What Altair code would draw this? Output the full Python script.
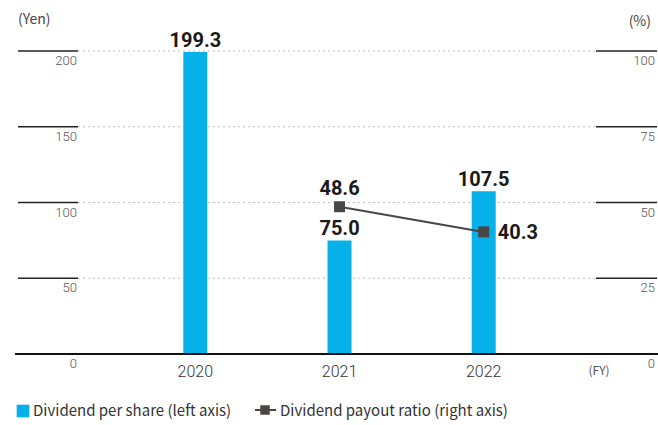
import altair as alt
import pandas as pd

# Fiscal years and series
years = [2020, 2021, 2022]
dividend_per_share = [199.3, 75.0, 107.5]          # Yen, left axis
payout_years = [2021, 2022]
payout_ratio = [48.6, 40.3]                         # %, right axis

left_ticks = [0, 50, 100, 150, 200]
right_ticks = [0, 25, 50, 75, 100]

bar_color = "#05b1e8"
line_color = "#4a4646"
label_font = "Noto Sans CJK JP"
num_font = "Roboto"

W, H = 640, 303
x_scale = alt.Scale(domain=[2018.805, 2023.174], nice=False, zero=False)
yl_scale = alt.Scale(domain=[0, 200], nice=False)
yr_scale = alt.Scale(domain=[0, 100], nice=False)

bars_df = pd.DataFrame({"year": years, "dps": dividend_per_share,
                        "label": [f"{v:.1f}" for v in dividend_per_share]})
line_df = pd.DataFrame({"year": payout_years, "ratio": payout_ratio,
                        "label": [f"{v:.1f}" for v in payout_ratio]})
ticks_df = pd.DataFrame({"yen": left_ticks, "pct": right_ticks,
                         "lt": [str(v) for v in left_ticks],
                         "rt": [str(v) for v in right_ticks]})
grid_df = ticks_df[ticks_df["yen"] > 0]

X = alt.X("year:Q", scale=x_scale, axis=None)
YL = alt.Y("dps:Q", scale=yl_scale, axis=None)
YR = alt.Y("ratio:Q", scale=yr_scale, axis=None)

# gridlines: solid stubs at both ends, dotted across the middle
grid_y = alt.Y("yen:Q", scale=yl_scale, axis=None)
grid_dotted = alt.Chart(grid_df).mark_rule(color="#bdbdbd", strokeDash=[2, 3], strokeWidth=1).encode(
    y=grid_y, x=alt.value(60), x2=alt.value(578))
grid_left = alt.Chart(grid_df).mark_rule(color="#222222", strokeWidth=1.5).encode(
    y=grid_y, x=alt.value(0), x2=alt.value(60))
grid_right = alt.Chart(grid_df).mark_rule(color="#222222", strokeWidth=1.5).encode(
    y=grid_y, x=alt.value(578), x2=alt.value(639))
baseline = alt.Chart(ticks_df[ticks_df["yen"] == 0]).mark_rule(color="#111111", strokeWidth=2.2).encode(
    y=grid_y, x=alt.value(-3), x2=alt.value(640))

left_labels = alt.Chart(ticks_df).mark_text(
    align="right", baseline="top", dy=4, font=num_font, fontWeight=300, fontSize=13, color="#555555").encode(
    y=grid_y, x=alt.value(59), text="lt:N")
right_labels = alt.Chart(ticks_df).mark_text(
    align="right", baseline="top", dy=4, font=num_font, fontWeight=300, fontSize=13, color="#555555").encode(
    y=alt.Y("pct:Q", scale=yr_scale, axis=None), x=alt.value(637), text="rt:N")

bars = alt.Chart(bars_df).mark_bar(size=24, color=bar_color).encode(x=X, y=YL)
bar_labels = alt.Chart(bars_df).mark_text(
    baseline="bottom", dy=-1, font=num_font, fontWeight="bold", fontSize=20, color="#1a1a1a").encode(
    x=X, y=YL, text="label:N")

line = alt.Chart(line_df).mark_line(color=line_color, strokeWidth=2).encode(x=X, y=YR)
points = alt.Chart(line_df).mark_point(shape="square", filled=True, size=120, color=line_color, opacity=1).encode(x=X, y=YR)
line_label_1 = alt.Chart(line_df[line_df["year"] == 2021]).mark_text(
    baseline="bottom", dy=-8, font=num_font, fontWeight="bold", fontSize=20, color="#1a1a1a").encode(
    x=X, y=YR, text="label:N")
line_label_2 = alt.Chart(line_df[line_df["year"] == 2022]).mark_text(
    align="left", baseline="middle", dx=14, dy=1, font=num_font, fontWeight="bold", fontSize=20, color="#1a1a1a").encode(
    x=X, y=YR, text="label:N")

year_labels = alt.Chart(bars_df).mark_text(
    baseline="middle", font=num_font, fontWeight=300, fontSize=16, color="#333333").encode(
    x=X, y=alt.value(321), text=alt.Text("year:Q", format="d"))

# unit captions and legend
captions_df = pd.DataFrame({"t": ["(Yen)", "(%)", "(FY)"]})
cap_yen = alt.Chart(captions_df.iloc[[0]]).mark_text(align="left", baseline="middle", font=label_font, fontSize=14, color="#444444").encode(
    x=alt.value(0), y=alt.value(-31), text="t:N")
cap_pct = alt.Chart(captions_df.iloc[[1]]).mark_text(align="right", baseline="middle", font=label_font, fontSize=14, color="#444444").encode(
    x=alt.value(633), y=alt.value(-29), text="t:N")
cap_fy = alt.Chart(captions_df.iloc[[2]]).mark_text(align="center", baseline="middle", font=label_font, fontSize=12, color="#555555").encode(
    x=alt.value(581), y=alt.value(320), text="t:N")

legend_df = pd.DataFrame({"t": ["Dividend per share (left axis)", "Dividend payout ratio (right axis)"]})
leg_sq = alt.Chart(legend_df.iloc[[0]]).mark_square(size=160, color=bar_color, opacity=1).encode(
    x=alt.value(5), y=alt.value(360))
leg_txt1 = alt.Chart(legend_df.iloc[[0]]).mark_text(align="left", baseline="middle", font=label_font, fontSize=15, color="#333333").encode(
    x=alt.value(15), y=alt.value(360), text="t:N")
leg_line = alt.Chart(legend_df.iloc[[1]]).mark_rule(color=line_color, strokeWidth=2).encode(
    x=alt.value(237), x2=alt.value(258), y=alt.value(359))
leg_pt = alt.Chart(legend_df.iloc[[1]]).mark_square(size=90, color=line_color, opacity=1).encode(
    x=alt.value(247), y=alt.value(359))
leg_txt2 = alt.Chart(legend_df.iloc[[1]]).mark_text(align="left", baseline="middle", font=label_font, fontSize=15, color="#333333").encode(
    x=alt.value(262), y=alt.value(360), text="t:N")

chart = alt.layer(
    grid_dotted, grid_left, grid_right,
    bars, baseline, line, points,
    left_labels, right_labels, bar_labels, line_label_1, line_label_2,
    year_labels, cap_yen, cap_pct, cap_fy,
    leg_sq, leg_txt1, leg_line, leg_pt, leg_txt2,
).resolve_scale(y="independent").properties(
    width=W, height=H,
    autosize=alt.AutoSizeParams(type="none"),
    padding={"left": 18, "top": 51, "right": 0, "bottom": 71},
    background="white",
).configure_view(stroke=None)

chart.save("out.html", embed_options={"renderer": "svg", "actions": False})
